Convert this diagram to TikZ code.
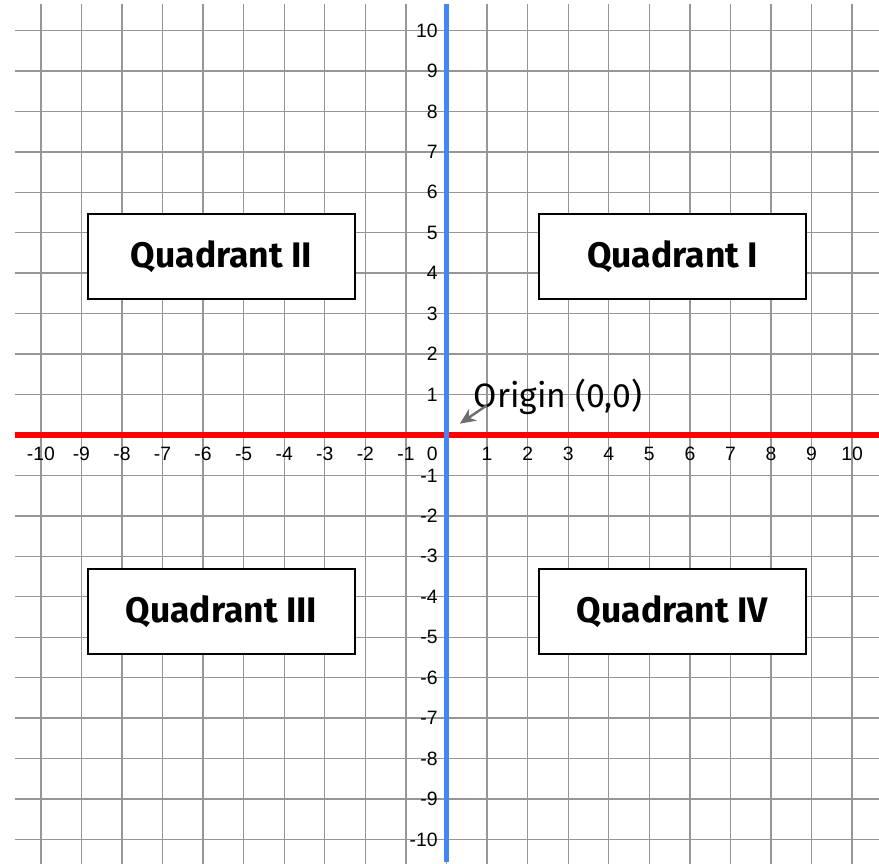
\documentclass[tikz,border=0pt]{standalone}
\usepackage{fontspec}
\setmainfont{Liberation Sans}
\newfontfamily\fira{Fira Sans}
\usetikzlibrary{arrows.meta}
\definecolor{gridgray}{RGB}{150,150,150}
\definecolor{axisblue}{RGB}{66,133,244}
\definecolor{axisred}{RGB}{255,0,0}
\definecolor{arrowgray}{RGB}{110,110,110}
\tikzset{
  gridline/.style={draw=gridgray, line width=0.8pt},
  ticklab/.style={font=\fontsize{11}{13}\selectfont, inner sep=0pt},
  quadbox/.style={draw=black, line width=1.2pt, fill=white, minimum width=5.34cm, minimum height=1.7cm, inner sep=0pt, font=\fira\bfseries\fontsize{20.2}{23}\selectfont},
  originlab/.style={font=\fira\fontsize{19.2}{21}\selectfont, inner sep=0pt},
}
\begin{document}
\begin{tikzpicture}[x=0.8114cm, y=0.809cm]
\useasboundingbox (-11.006,-10.606) rectangle (10.661,10.754);
\fill[white] (-11.006,-10.606) rectangle (10.661,10.754);
% grid
\foreach \i in {-10,...,10} {
  \draw[gridline] (-10.637,\i) -- (10.661,\i);
  \draw[gridline] (\i,10.655) -- (\i,-10.606);
}
% axes
\coordinate (xl) at (-10.637,0);
\coordinate (xr) at (10.661,0);
\coordinate (yt) at (0,10.655);
\coordinate (yb) at (0,-10.556);
\draw[axisred, line width=3.4pt] (xl) -- (xr);
\draw[axisblue, line width=3.4pt] (yt) -- (yb);
% x labels
\foreach \i in {-10,...,-1,1,2,...,10} {
  \node[ticklab] (xlab\i) at (\i,-0.47) {\i};
}
\node[ticklab, anchor=east] (xlab0) at (-0.21,-0.47) {0};
% y labels
\foreach \i in {-10,...,-1,1,2,...,10} {
  \node[ticklab, anchor=east] (ylab\i) at (-0.21,\i) {\i};
}
% quadrant boxes
\node[quadbox] (q2) at (-5.546,4.413) {Quadrant II};
\node[quadbox] (q1) at (5.571,4.413) {Quadrant I};
\node[quadbox] (q3) at (-5.546,-4.363) {Quadrant III};
\node[quadbox] (q4) at (5.571,-4.363) {Quadrant IV};
% origin label
\node[originlab] (orig) at (2.748,0.94) {Origin (0,0)};
\coordinate (arrS) at (0.99,0.73);
\coordinate (arrE) at (0.33,0.28);
\draw[arrowgray, line width=1.4pt, -{Stealth[length=9pt,width=8pt]}] (arrS) -- (arrE);
\end{tikzpicture}
\end{document}
